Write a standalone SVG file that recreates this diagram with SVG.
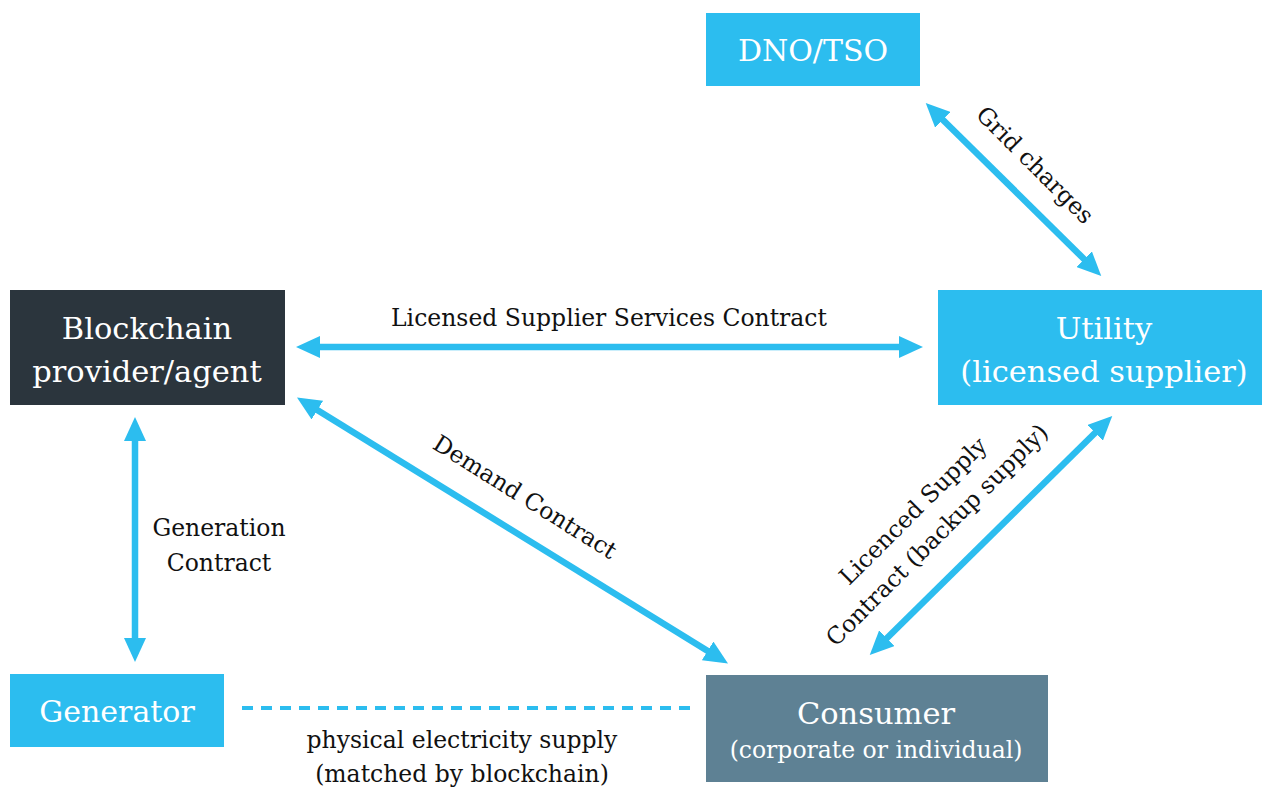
<svg xmlns="http://www.w3.org/2000/svg" width="1262" height="787" viewBox="0 0 1262 787">
<style>
.blue{fill:#2CBDEF}
.dark{fill:#2B353D}
.slate{fill:#5E8194}
.nt{font-family:"DejaVu Serif","Liberation Serif",serif;fill:#fff;text-anchor:middle}
.lb{font-family:"DejaVu Serif","Liberation Serif",serif;fill:#111;text-anchor:middle;font-size:23.5px}
.con{stroke:#2CBDEF;stroke-width:6.5;fill:none}
</style>
<defs>
<marker id="ah" viewBox="0 0 24 22" refX="4" refY="11" markerWidth="24" markerHeight="22" markerUnits="userSpaceOnUse" orient="auto-start-reverse">
<path d="M0,0 L24,11 L0,22 Z" fill="#2CBDEF"/>
</marker>
</defs>
<rect width="1262" height="787" fill="#fff"/>
<g id="connectors">
<line class="con" x1="316" y1="347" x2="903" y2="347" marker-start="url(#ah)" marker-end="url(#ah)"/>
<line class="con" x1="135" y1="437" x2="135" y2="642" marker-start="url(#ah)" marker-end="url(#ah)"/>
<line class="con" x1="314" y1="408" x2="711" y2="653" marker-start="url(#ah)" marker-end="url(#ah)"/>
<line class="con" x1="940" y1="117" x2="1087" y2="262" marker-start="url(#ah)" marker-end="url(#ah)"/>
<line class="con" x1="884" y1="641" x2="1098" y2="430" marker-start="url(#ah)" marker-end="url(#ah)"/>
<line stroke="#2CBDEF" stroke-width="4" stroke-dasharray="11,8" x1="242" y1="708" x2="692" y2="708"/>
</g>
<g id="dno">
<rect class="blue" x="706" y="13" width="214" height="73"/>
<text class="nt" x="813" y="61" font-size="30">DNO/TSO</text>
</g>
<g id="blockchain">
<rect class="dark" x="10" y="290" width="275" height="115"/>
<text class="nt" x="147" y="339" font-size="30.5">Blockchain</text>
<text class="nt" x="147" y="382" font-size="30.5">provider/agent</text>
</g>
<g id="utility">
<rect class="blue" x="938" y="290" width="324" height="115"/>
<text class="nt" x="1104" y="339" font-size="30.5">Utility</text>
<text class="nt" x="1104" y="382" font-size="30.5">(licensed supplier)</text>
</g>
<g id="generator">
<rect class="blue" x="10" y="674" width="214" height="73"/>
<text class="nt" x="117" y="722" font-size="30">Generator</text>
</g>
<g id="consumer">
<rect class="slate" x="706" y="675" width="342" height="107"/>
<text class="nt" x="876" y="724" font-size="30.5">Consumer</text>
<text class="nt" x="876" y="758" font-size="23.5">(corporate or individual)</text>
</g>
<g id="labels">
<text class="lb" x="609" y="326">Licensed Supplier Services Contract</text>
<text class="lb" x="219" y="536">Generation</text>
<text class="lb" x="219" y="571">Contract</text>
<text class="lb" x="462" y="748">physical electricity supply</text>
<text class="lb" x="462" y="782">(matched by blockchain)</text>
<text class="lb" transform="translate(1035,165) rotate(45)" y="8">Grid charges</text>
<text class="lb" transform="translate(525,497) rotate(32)" y="8">Demand Contract</text>
<text class="lb" transform="translate(913,511) rotate(-45)" y="8">Licenced Supply</text>
<text class="lb" transform="translate(937,535) rotate(-45)" y="8">Contract (backup supply)</text>
</g>
</svg>
